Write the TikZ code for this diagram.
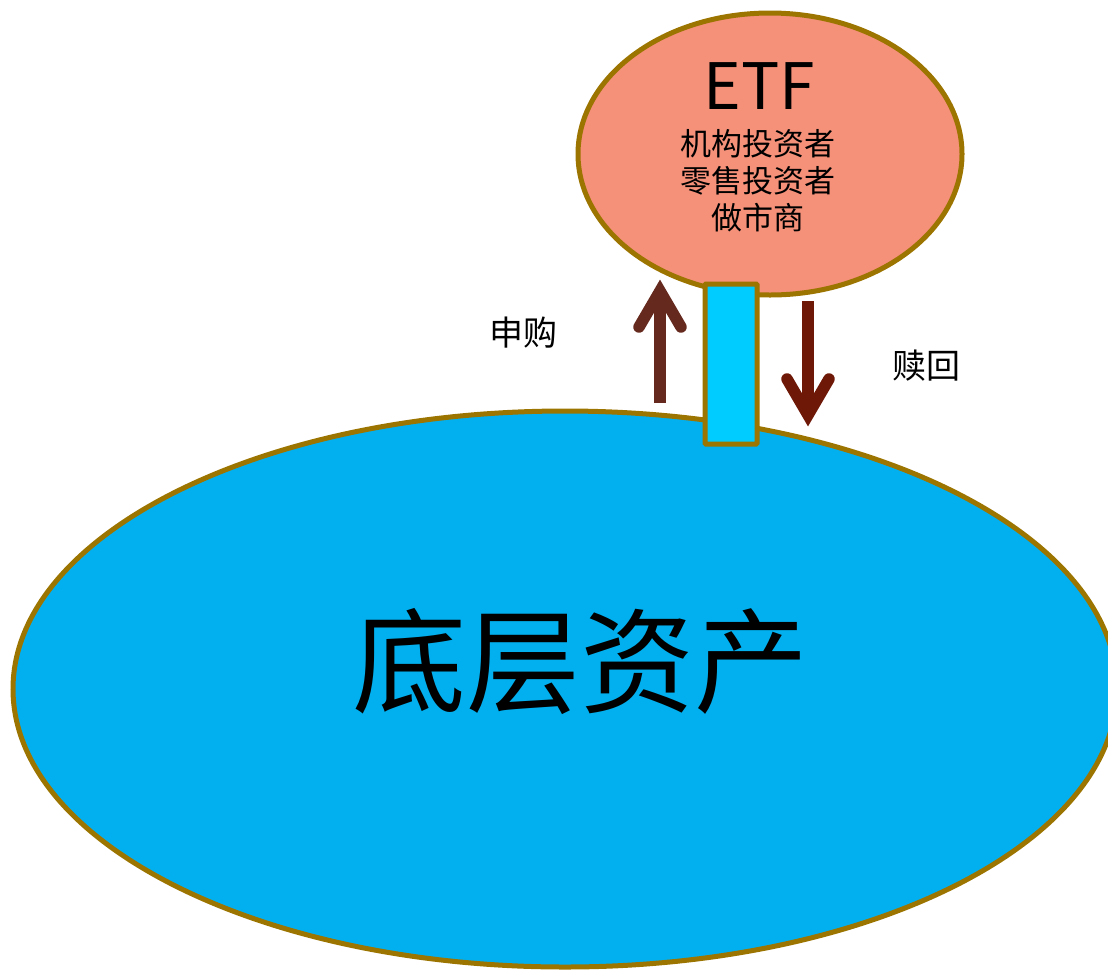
\documentclass[tikz,border=0pt]{standalone}
\usepackage{fontspec}
\setmainfont{Noto Sans CJK SC}
\usetikzlibrary{shapes.geometric}
\begin{document}
\begin{tikzpicture}[x=1pt,y=-1pt,
  bord/.style={draw={rgb,255:red,156;green,116;blue,0},line width=5pt},
  upcol/.style={draw={rgb,255:red,102;green,41;blue,30}},
  dncol/.style={draw={rgb,255:red,110;green,24;blue,8}},
  arrowline/.style={line width=11.5pt},
  lbl/.style={font=\fontsize{34}{40}\selectfont,inner sep=0pt}]
\useasboundingbox (0,0) rectangle (1108,970);
% big ellipse
\begin{scope}
\clip (0,0) rectangle (1108,970);
\node[bord,ellipse,fill={rgb,255:red,2;green,176;blue,239},minimum width=1104pt,minimum height=556pt,inner sep=0pt] (pool) at (565,689) {};
\end{scope}
\node[inner sep=0pt,font=\fontsize{114}{120}\selectfont] (base) at (580,662) {底层资产};
% top ellipse
\node[bord,ellipse,fill={rgb,255:red,245;green,144;blue,121},minimum width=384pt,minimum height=282pt,inner sep=0pt] (fund) at (770,154) {};
\node[inner sep=0pt,font=\fontsize{64}{70}\selectfont] (etf) at (759,86) {ETF};
\node[inner sep=0pt,align=center,font=\fontsize{31}{37}\selectfont] (who) at (758,181) {机构投资者\\零售投资者\\做市商};
% connector rectangle
\node[bord,fill={rgb,255:red,0;green,204;blue,255},rounded corners=1pt,minimum width=52pt,minimum height=160pt,inner sep=0pt] (pipe) at (731,364) {};
\coordinate (upbot) at (660,403);
\coordinate (uptip) at (660,291);
\coordinate (dntop) at (808,301);
\coordinate (dntip) at (808,415);
% up arrow
\draw[upcol,arrowline] (upbot) -- (uptip);
\draw[upcol,arrowline,line cap=round,line join=miter] ([xshift=-21pt,yshift=-36pt]uptip) -- (uptip) -- ([xshift=21pt,yshift=-36pt]uptip);
% down arrow
\draw[dncol,arrowline] (dntop) -- (dntip);
\draw[dncol,arrowline,line cap=round,line join=miter] ([xshift=-21pt,yshift=36pt]dntip) -- (dntip) -- ([xshift=21pt,yshift=36pt]dntip);
\node[lbl] (sg) at (523,333) {申购};
\node[lbl] (sh) at (926,366) {赎回};
\end{tikzpicture}
\end{document}
